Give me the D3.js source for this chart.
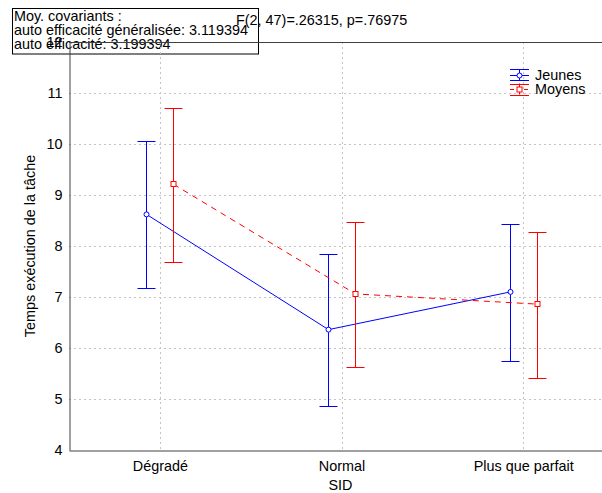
<!DOCTYPE html>
<html>
<head>
<meta charset="utf-8">
<script src="https://cdn.jsdelivr.net/npm/d3@7/dist/d3.min.js"></script>
<style>
  html, body { margin: 0; padding: 0; background: #fff; }
  svg { display: block; }
  text { font-family: Arial, "Liberation Sans", sans-serif; fill: #000; }
</style>
</head>
<body>
<script>
// ---- data ----
const categories = ["Dégradé", "Normal", "Plus que parfait"];
const seriesNames = ["Jeunes", "Moyens"];
const jeunesMean  = [8.62, 6.36, 7.10];
const jeunesUpper = [10.05, 7.85, 8.44];
const jeunesLower = [7.18, 4.87, 5.75];
const moyensMean  = [9.21, 7.06, 6.86];
const moyensUpper = [10.70, 8.48, 8.27];
const moyensLower = [7.69, 5.63, 5.41];
const yTicks = [4, 5, 6, 7, 8, 9, 10, 11, 12];
const annotationLines = ["Moy. covariants :", "auto efficacité généralisée: 3.119394", "auto efficacité: 3.199394"];
const statText = "F(2, 47)=.26315, p=.76975";
const xTitle = "SID";
const yTitle = "Temps exécution de la tâche";

(function () {
// ---- layout ----
const W = 602, H = 493;
const pL = 69, pR = 614, pT = 42, pB = 450;
const FS = 14.4;
const snap = v => Math.round(v) + 0.5;

const svg = d3.select("body").append("svg").attr("width", W).attr("height", H);

const x = d3.scalePoint().domain(categories).range([pL, pR]).padding(0.5);
const y = d3.scaleLinear().domain([4, 12]).range([pB, pT]);
const off = x.step() * 0.075;

const series = [
  { name: seriesNames[0], color: "#0000ff", mean: jeunesMean, up: jeunesUpper, lo: jeunesLower, dx: -off, dash: null, marker: "circle" },
  { name: seriesNames[1], color: "#ff0000", mean: moyensMean, up: moyensUpper, lo: moyensLower, dx: off, dash: "6,5", marker: "square" }
];

// annotation box (under the frame)
const box = svg.append("g");
box.append("rect").attr("x", 12.5).attr("y", 8.5).attr("width", 246).attr("height", 45.5)
  .attr("fill", "none").attr("stroke", "#000").attr("stroke-width", 1);
annotationLines.forEach((t, i) => {
  box.append("text").attr("x", 14).attr("y", 21 + i * 14).attr("font-size", FS).text(t);
});
svg.append("text").attr("x", 236).attr("y", 25).attr("font-size", FS).text(statText);

// grid
const grid = svg.append("g").attr("stroke", "#c4c4c4").attr("stroke-dasharray", "2,3").attr("stroke-width", 1);
yTicks.filter(v => v > 4 && v < 12).forEach(v => {
  grid.append("line").attr("x1", pL).attr("x2", W).attr("y1", snap(y(v))).attr("y2", snap(y(v)));
});
categories.forEach(c => {
  grid.append("line").attr("x1", snap(x(c))).attr("x2", snap(x(c))).attr("y1", pT).attr("y2", pB);
});

// axes
const yAxis = d3.axisLeft(y).tickValues(yTicks).tickSize(0).tickPadding(7).tickFormat(d3.format("d"));
const gy = svg.append("g").attr("transform", `translate(${pL + 0.5},0)`).call(yAxis);
gy.select(".domain").attr("stroke", "#404040");
gy.selectAll("text").attr("font-size", FS).attr("font-family", "Arial, 'Liberation Sans', sans-serif");

const xAxis = d3.axisBottom(x).tickSize(0).tickPadding(10);
const gx = svg.append("g").attr("transform", `translate(0,${pB + 0.5})`).call(xAxis);
gx.select(".domain").attr("stroke", "#404040");
gx.selectAll("text").attr("font-size", FS).attr("font-family", "Arial, 'Liberation Sans', sans-serif");

// top frame line
svg.append("line").attr("x1", pL).attr("x2", W).attr("y1", pT + 0.5).attr("y2", pT + 0.5).attr("stroke", "#404040");

// titles
svg.append("text").attr("x", (pL + pR) / 2 - 1).attr("y", 490).attr("text-anchor", "middle").attr("font-size", FS).text(xTitle);
svg.append("text").attr("transform", `translate(35,${(pT + pB) / 2}) rotate(-90)`).attr("text-anchor", "middle").attr("font-size", FS).text(yTitle);

// series
const capHalf = 9;
series.forEach(s => {
  const g = svg.append("g");
  const pts = categories.map((c, i) => [snap(x(c) + s.dx), y(s.mean[i])]);
  g.append("path").attr("d", d3.line()(pts)).attr("fill", "none").attr("stroke", s.color)
    .attr("stroke-width", 1).attr("stroke-dasharray", s.dash);
  categories.forEach((c, i) => {
    const cx = snap(x(c) + s.dx);
    g.append("line").attr("x1", cx).attr("x2", cx).attr("y1", snap(y(s.up[i]))).attr("y2", snap(y(s.lo[i]))).attr("stroke", s.color);
    [s.up[i], s.lo[i]].forEach(v => {
      g.append("line").attr("x1", cx - capHalf).attr("x2", cx + capHalf).attr("y1", snap(y(v))).attr("y2", snap(y(v))).attr("stroke", s.color);
    });
    if (s.marker === "circle") {
      g.append("circle").attr("cx", cx).attr("cy", y(s.mean[i])).attr("r", 2.5).attr("fill", "#fff").attr("stroke", s.color);
    } else {
      g.append("rect").attr("x", cx - 2.5).attr("y", snap(y(s.mean[i])) - 3).attr("width", 5).attr("height", 5).attr("fill", "#fff").attr("stroke", s.color);
    }
  });
});

// legend
series.forEach((s, i) => {
  const cy = 74.5 + i * 14.5;
  const lx = 519.5;
  const g = svg.append("g");
  [-5.5, 5.5].forEach(d => g.append("line").attr("x1", lx - 9.5).attr("x2", lx + 9.5).attr("y1", Math.round(cy + d) + 0.5).attr("y2", Math.round(cy + d) + 0.5).attr("stroke", s.color));
  g.append("line").attr("x1", lx).attr("x2", lx).attr("y1", cy - 5.5).attr("y2", cy + 5.5).attr("stroke", s.color);
  g.append("line").attr("x1", lx - 9.5).attr("x2", lx + 9.5).attr("y1", Math.round(cy) + 0.5).attr("y2", Math.round(cy) + 0.5).attr("stroke", s.color).attr("stroke-dasharray", s.dash ? "4,3" : null);
  if (s.marker === "circle") {
    g.append("circle").attr("cx", lx).attr("cy", Math.round(cy) + 0.5).attr("r", 2.5).attr("fill", "#fff").attr("stroke", s.color);
  } else {
    g.append("rect").attr("x", lx - 2.5).attr("y", Math.round(cy) - 2).attr("width", 5).attr("height", 5).attr("fill", "#fff").attr("stroke", s.color);
  }
  g.append("text").attr("x", 535).attr("y", cy + 5).attr("font-size", FS).text(s.name);
});
})();
</script>
</body>
</html>
